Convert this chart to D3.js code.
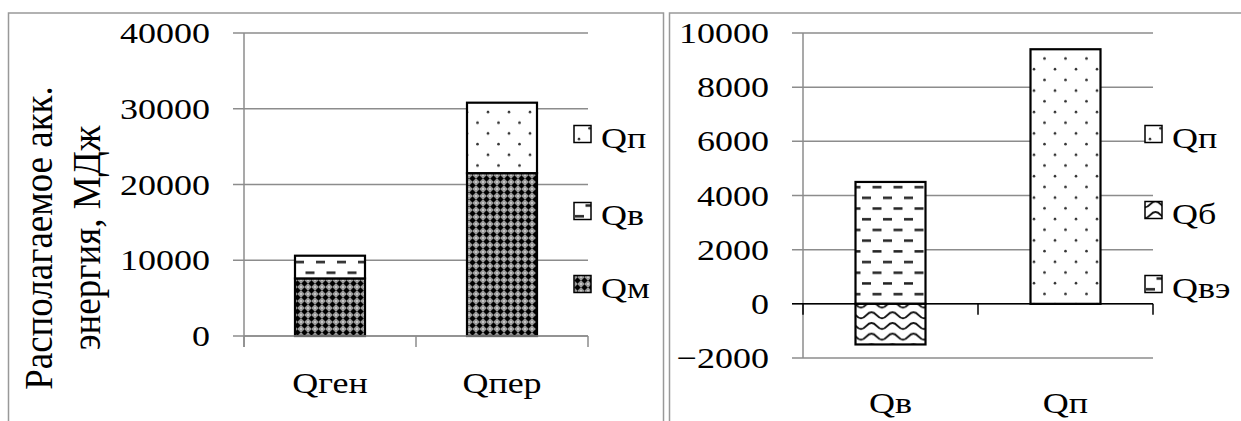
<!DOCTYPE html>
<meta charset="utf-8">
<style>
  body { margin: 0; background: #fff; }
  text { font-family: "Liberation Serif", "Times New Roman", serif; fill: #000; }
</style>
<body>
<div id="chart"></div>
<script src="https://d3js.org/d3.v7.min.js"></script>
<script>
  // левая диаграмма
  const leftCats = ['Qген', 'Qпер'];
  const leftQm = [7600, 21500];
  const leftQv = [3000, 0];
  const leftQp = [0, 9300];
  const leftTicks = [0, 10000, 20000, 30000, 40000];
  const leftLegend = ['Qп', 'Qв', 'Qм'];

  // правая диаграмма
  const rightCats = ['Qв', 'Qп'];
  const rightQve = [4500, 0];
  const rightQb = [-1500, 0];
  const rightQp = [0, 9400];
  const rightTicks = [-2000, 0, 2000, 4000, 6000, 8000, 10000];
  const rightLegend = ['Qп', 'Qб', 'Qвэ'];

  const titleLines = ['Располагаемое акк.', 'энергия, МДж'];

  const W = 1241, H = 421;
  const sx = 1.2; // текст в оригинале растянут по горизонтали
  const grid = '#8c8c8c';

  const svg = d3.select('#chart').append('svg')
      .attr('width', W).attr('height', H);

  // штриховки
  const defs = svg.append('defs');
  function pattern(id, w, h) {
    const p = defs.append('pattern').attr('id', id)
        .attr('patternUnits', 'userSpaceOnUse')
        .attr('width', w).attr('height', h);
    p.append('rect').attr('width', w).attr('height', h).attr('fill', '#fff');
    return p;
  }
  const dots = pattern('dots', 21, 21.4);
  dots.append('circle').attr('cx', 5).attr('cy', 5).attr('r', 1.3).attr('fill', '#333');
  dots.append('circle').attr('cx', 15.5).attr('cy', 15.7).attr('r', 1.3).attr('fill', '#333');

  const dashes = pattern('dashes', 21, 21.4);
  dashes.append('rect').attr('x', 1).attr('y', 4).attr('width', 9).attr('height', 2.5).attr('fill', '#222');
  dashes.append('rect').attr('x', 11.5).attr('y', 14.7).attr('width', 9).attr('height', 2.5).attr('fill', '#222');

  const waves = pattern('waves', 21, 10.7);
  waves.append('path').attr('d', 'M0,8 C5,8 5.5,2 10.5,2 C15.5,2 16,8 21,8')
      .attr('fill', 'none').attr('stroke', '#111').attr('stroke-width', 2);

  const cross = pattern('cross', 7, 7);
  cross.select('rect').attr('fill', '#9a9a9a');
  cross.append('path')
      .attr('d', 'M3.5,0 L4.8,2.2 L7,3.5 L4.8,4.8 L3.5,7 L2.2,4.8 L0,3.5 L2.2,2.2 Z')
      .attr('fill', '#000');
  cross.append('circle').attr('cx', 3.5).attr('cy', 3.5).attr('r', 2.3).attr('fill', '#000');
  [[0, 0], [7, 0], [0, 7], [7, 7]].forEach(([x, y]) =>
    cross.append('circle').attr('cx', x).attr('cy', y).attr('r', 0.8).attr('fill', '#fff'));

  // рамки панелей
  svg.append('rect').attr('x', 8.5).attr('y', 13).attr('width', 655).attr('height', 440)
      .attr('fill', 'none').attr('stroke', '#999').attr('stroke-width', 1.5);
  svg.append('rect').attr('x', 669.5).attr('y', 13).attr('width', 620).attr('height', 440)
      .attr('fill', 'none').attr('stroke', '#999').attr('stroke-width', 1.5);

  function drawPanel(o) {
    const rows = o.cats.map((c, i) => {
      const r = { cat: c };
      o.series.forEach(s => { r[s.key] = s.values[i]; });
      return r;
    });
    const stack = d3.stack().keys(o.series.map(s => s.key))
        .order(d3.stackOrderNone).offset(d3.stackOffsetDiverging);
    const stacked = stack(rows);

    const x = d3.scaleBand().domain(o.cats).range(o.xRange)
        .paddingInner(o.pad).paddingOuter(o.pad / 2);
    const y = d3.scaleLinear().domain(d3.extent(o.ticks)).range(o.yRange);

    const g = svg.append('g');
    const x0 = o.xRange[0], x1 = o.xRange[1];

    // сетка
    g.selectAll('line.grid').data(o.ticks).enter().append('line')
        .attr('x1', x0 - 11).attr('x2', x1)
        .attr('y1', d => y(d)).attr('y2', d => y(d))
        .attr('stroke', grid).attr('stroke-width', 1.5);

    // ось Y
    g.append('line').attr('x1', x0).attr('x2', x0)
        .attr('y1', y(o.ticks[o.ticks.length - 1])).attr('y2', o.yAxisEnd)
        .attr('stroke', grid).attr('stroke-width', 1.5);
    const ya = g.append('g').attr('transform', `translate(${x0},0)`)
        .call(d3.axisLeft(y).tickValues(o.ticks).tickSize(0).tickFormat(d3.format('d')));
    ya.select('.domain').remove();
    ya.attr('font-family', null).attr('font-size', null);
    ya.selectAll('text').attr('x', -34 / sx).attr('transform', `scale(${sx},1)`)
        .style('font-size', '30px');

    // столбцы
    const layer = g.selectAll('g.layer').data(stacked).enter().append('g')
        .attr('fill', d => `url(#${o.series[d.index].pat})`);
    layer.selectAll('rect').data(d => d.filter(v => v[1] !== v[0])).enter().append('rect')
        .attr('x', d => x(d.data.cat))
        .attr('width', x.bandwidth())
        .attr('y', d => y(Math.max(d[0], d[1])))
        .attr('height', d => Math.abs(y(d[0]) - y(d[1])))
        .attr('stroke', '#000').attr('stroke-width', 2.2);

    // ось X
    const y0 = y(0);
    g.append('line').attr('x1', o.zeroBlack ? x0 - 11 : x0).attr('x2', x1)
        .attr('y1', y0).attr('y2', y0)
        .attr('stroke', o.zeroBlack ? '#000' : grid).attr('stroke-width', 1.5);
    const edges = d3.range(o.cats.length + 1).map(i => x0 + i * x.step());
    g.selectAll('line.tick').data(edges).enter().append('line')
        .attr('x1', d => d).attr('x2', d => d)
        .attr('y1', y0).attr('y2', y0 + 11)
        .attr('stroke', o.zeroBlack ? '#000' : grid).attr('stroke-width', 1.5);

    g.selectAll('text.cat').data(o.cats).enter().append('text')
        .attr('text-anchor', 'middle')
        .attr('transform', d => `translate(${x(d) + x.bandwidth() / 2},${o.catY}) scale(${sx},1)`)
        .style('font-size', '30px')
        .text(d => d);

    // легенда
    const lg = g.selectAll('g.leg').data(o.legend).enter().append('g')
        .attr('transform', (d, i) => `translate(${o.legX},${o.legY[i]})`);
    lg.append('rect').attr('x', 0).attr('y', -8.5).attr('width', 17).attr('height', 17)
        .attr('fill', d => `url(#${o.series.find(s => s.key === d).pat})`)
        .attr('stroke', '#000').attr('stroke-width', 1.5);
    lg.append('text').attr('transform', `translate(27,14) scale(${sx},1)`)
        .style('font-size', '30px').text(d => d);
  }

  drawPanel({
    cats: leftCats,
    series: [
      { key: 'Qм', values: leftQm, pat: 'cross' },
      { key: 'Qв', values: leftQv, pat: 'dashes' },
      { key: 'Qп', values: leftQp, pat: 'dots' }
    ],
    ticks: leftTicks,
    legend: leftLegend,
    xRange: [244, 588], yRange: [336, 33], yAxisEnd: 347, pad: 0.593,
    zeroBlack: false, catY: 393, legX: 574, legY: [134, 211, 284]
  });

  drawPanel({
    cats: rightCats,
    series: [
      { key: 'Qвэ', values: rightQve, pat: 'dashes' },
      { key: 'Qб', values: rightQb, pat: 'waves' },
      { key: 'Qп', values: rightQp, pat: 'dots' }
    ],
    ticks: rightTicks,
    legend: rightLegend,
    xRange: [803, 1153], yRange: [358, 33], yAxisEnd: 358, pad: 0.6,
    zeroBlack: true, catY: 413, legX: 1145, legY: [134, 210, 284]
  });

  // подпись оси Y
  svg.selectAll('text.title').data(titleLines).enter().append('text')
      .attr('text-anchor', 'middle')
      .attr('transform', (d, i) => `translate(${52 + i * 48},238) scale(1.1,1) rotate(-90)`)
      .style('font-size', '37px')
      .text(d => d);
</script>
